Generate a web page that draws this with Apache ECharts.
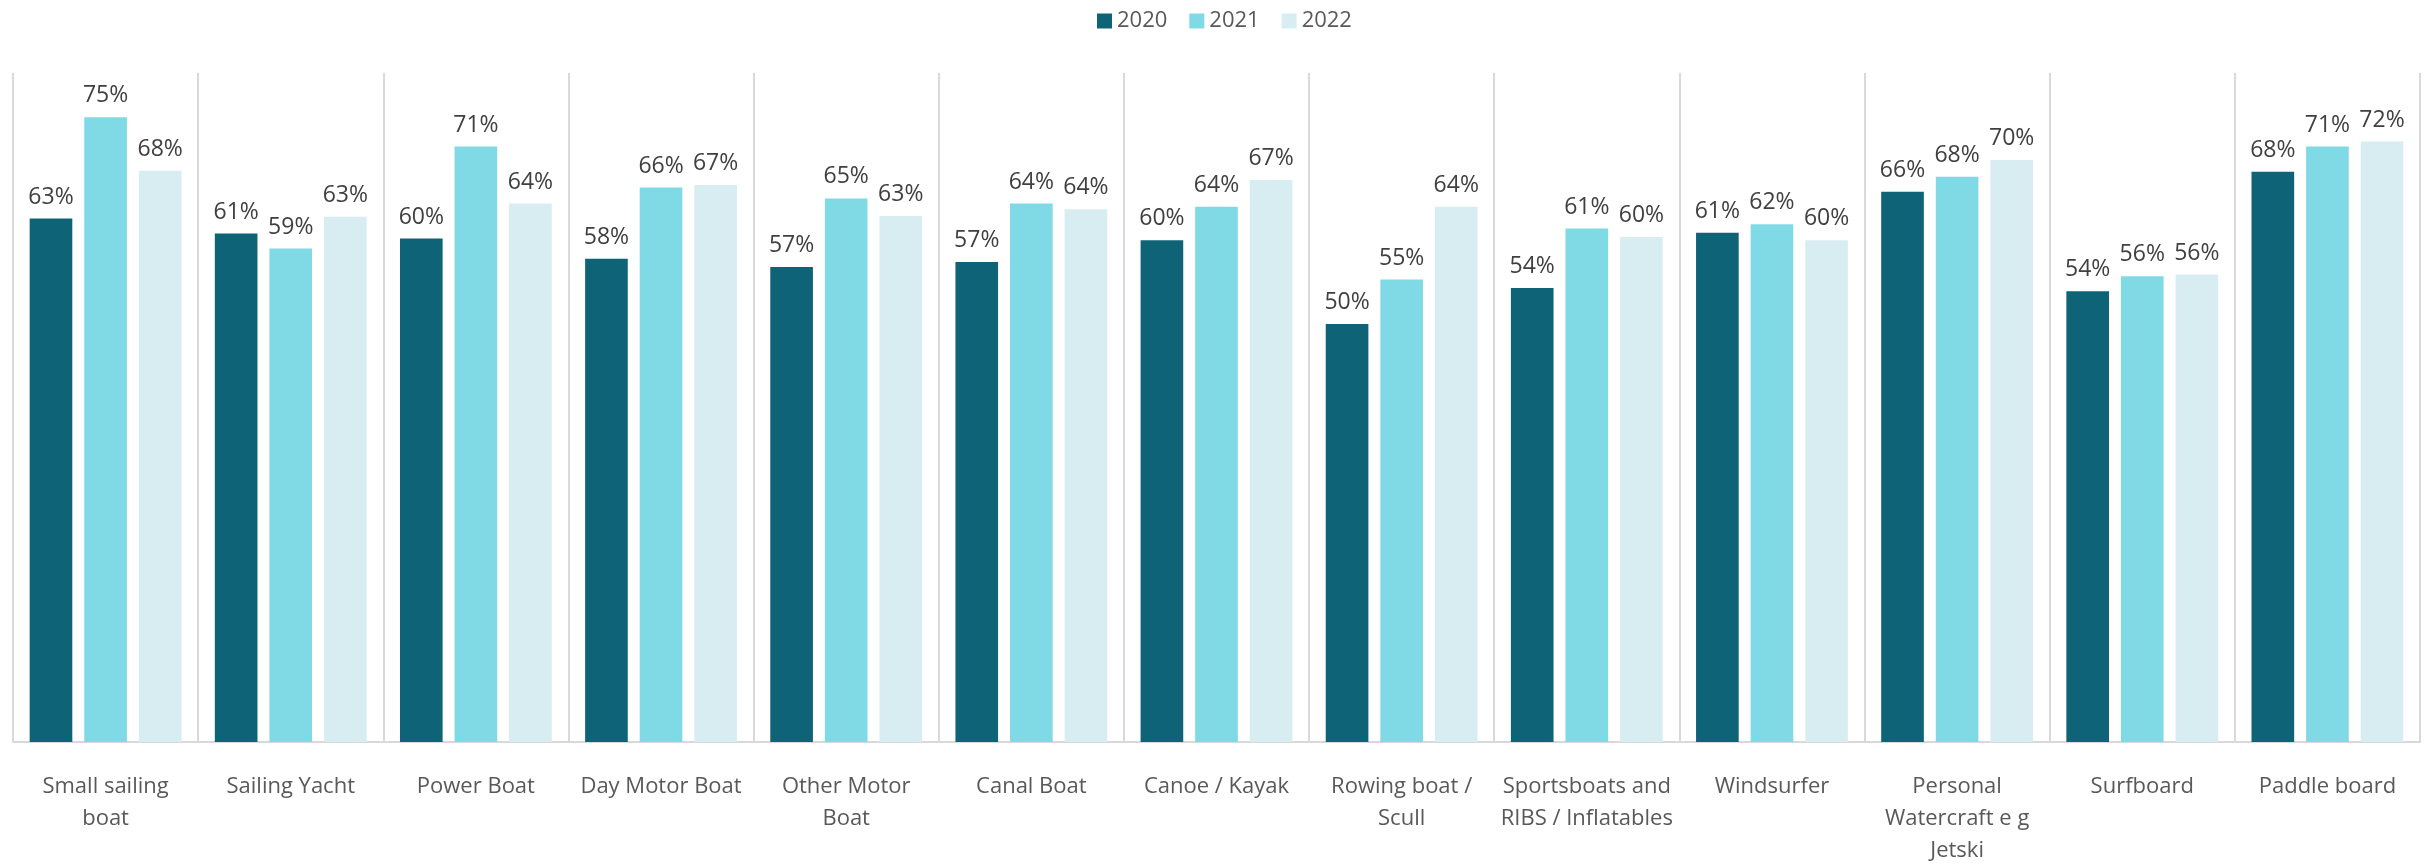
<!DOCTYPE html>
<html>
<head>
<meta charset="utf-8">
<script src="https://cdn.jsdelivr.net/npm/echarts@6/dist/echarts.min.js"></script>
<style>
html,body{margin:0;padding:0;background:#fff;}
#chart{width:2428px;height:867px;}
</style>
</head>
<body>
<div id="chart"></div>
<script>
const categories = ["Small sailing boat","Sailing Yacht","Power Boat","Day Motor Boat","Other Motor Boat","Canal Boat","Canoe / Kayak","Rowing boat / Scull","Sportsboats and RIBS / Inflatables","Windsurfer","Personal Watercraft e g Jetski","Surfboard","Paddle board"];
const tickLabels = ["Small sailing\nboat","Sailing Yacht","Power Boat","Day Motor Boat","Other Motor\nBoat","Canal Boat","Canoe / Kayak","Rowing boat /\nScull","Sportsboats and\nRIBS / Inflatables","Windsurfer","Personal\nWatercraft e g\nJetski","Surfboard","Paddle board"];
const seriesNames = ["2020","2021","2022"];
const values2020 = [62.6,60.8,60.2,57.8,56.8,57.4,60.0,50.0,54.3,60.9,65.8,53.9,68.2];
const values2021 = [74.7,59.0,71.2,66.3,65.0,64.4,64.0,55.3,61.4,61.9,67.6,55.7,71.2];
const values2022 = [68.3,62.8,64.4,66.6,62.9,63.7,67.2,64.0,60.4,60.0,69.6,55.9,71.8];
const colors = ["#0E6377","#80DAE5","#D8EDF2"];

const FONT = "Open Sans";
const chart = echarts.init(document.getElementById('chart'));
const allValues = [values2020, values2021, values2022];
chart.setOption({
  animation: false,
  textStyle: {fontFamily: FONT},
  legend: {
    top: 5,
    left: 1092,
    itemWidth: 15,
    itemHeight: 15,
    itemGap: 22,
    icon: 'rect',
    textStyle: {fontSize: 22, color: '#595959', fontFamily: FONT},
    data: seriesNames
  },
  grid: {left: 13, right: 8, top: 73, bottom: 111, containLabel: false},
  xAxis: {
    type: 'category',
    data: categories,
    axisLine: {lineStyle: {color: '#D9D9D9', width: 2}},
    axisTick: {show: false},
    splitLine: {show: true, lineStyle: {color: '#D9D9D9', width: 2}},
    axisLabel: {
      interval: 0,
      margin: 29,
      fontSize: 22,
      lineHeight: 32,
      color: '#595959',
      fontFamily: FONT,
      formatter: (v, i) => tickLabels[i]
    }
  },
  yAxis: {
    type: 'value',
    min: 0,
    max: 80,
    show: false,
    splitLine: {show: false}
  },
  series: seriesNames.map((n, k) => ({
    name: n,
    type: 'bar',
    data: allValues[k],
    barGap: '28%',
    barCategoryGap: '18%',
    itemStyle: {color: colors[k]},
    label: {
      show: true,
      position: 'top',
      distance: 10,
      fontSize: 23,
      color: '#404040',
      fontFamily: FONT,
      formatter: p => Math.round(p.value) + '%'
    }
  }))
});
</script>
</body>
</html>
